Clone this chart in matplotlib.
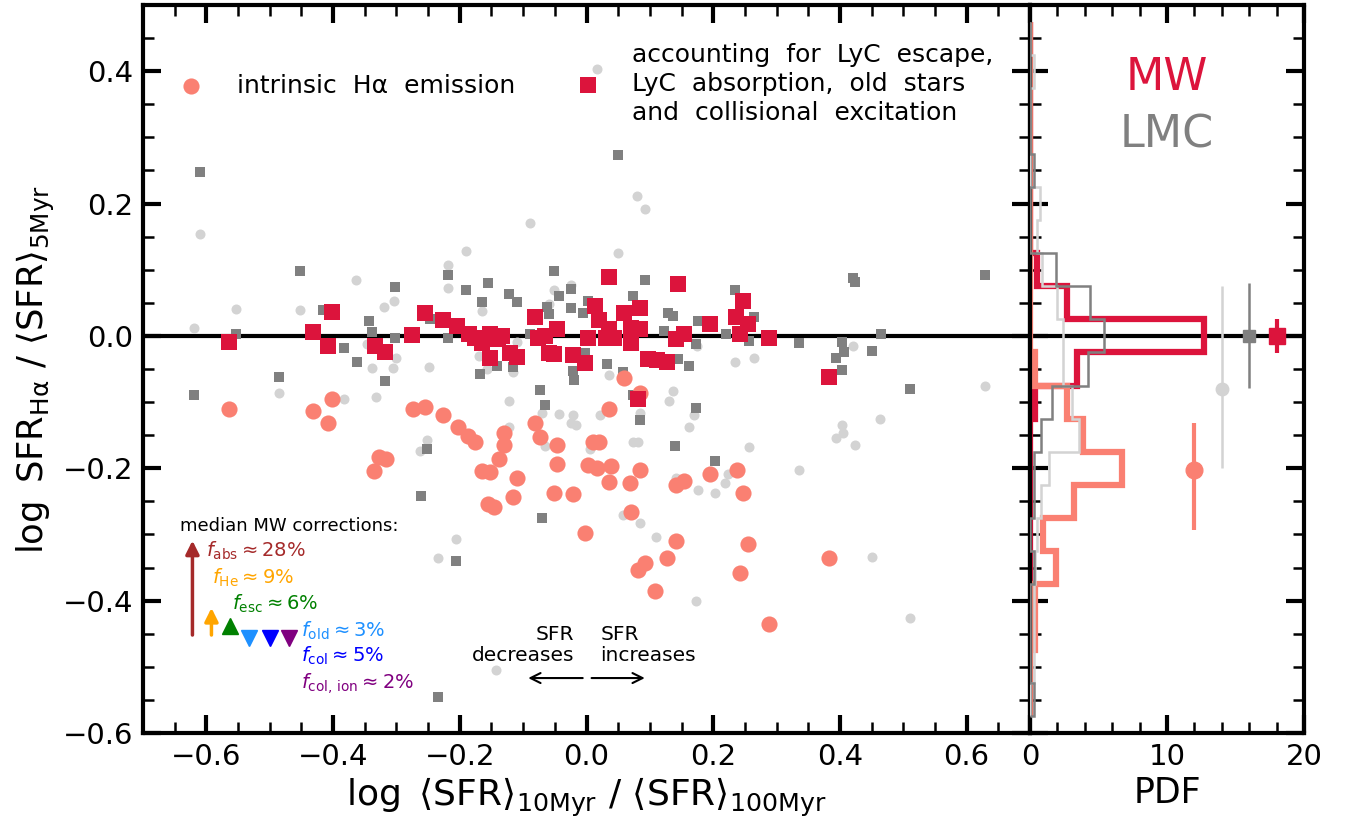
import numpy as np
import matplotlib.pyplot as plt
from matplotlib.lines import Line2D

# ---- data ----
# MW, intrinsic Halpha emission
mw_int_x = [-0.565, -0.432, -0.402, -0.408, -0.328, -0.317, -0.336, -0.274, -0.255, -0.226,
            -0.203, -0.187, -0.176, -0.131, -0.131, -0.138, -0.165, -0.152, -0.109, -0.116,
            -0.155, -0.146, -0.081, -0.074, -0.046, -0.046, -0.052, -0.021, -0.002, 0.002,
            0.059, 0.084, 0.036, 0.011, 0.019, 0.016, 0.038, 0.035, 0.068, 0.084,
            0.070, 0.141, 0.154, 0.195, 0.237, 0.247, 0.141, 0.127, 0.093, 0.082,
            0.108, 0.255, 0.242, 0.288, 0.383]
mw_int_y = [-0.111, -0.114, -0.095, -0.131, -0.183, -0.186, -0.204, -0.111, -0.107, -0.120,
            -0.137, -0.152, -0.161, -0.147, -0.165, -0.186, -0.204, -0.206, -0.215, -0.244,
            -0.254, -0.259, -0.132, -0.153, -0.165, -0.193, -0.238, -0.239, -0.298, -0.195,
            -0.063, -0.086, -0.110, -0.161, -0.161, -0.200, -0.197, -0.221, -0.223, -0.203,
            -0.266, -0.226, -0.219, -0.209, -0.202, -0.238, -0.310, -0.336, -0.343, -0.353,
            -0.386, -0.314, -0.358, -0.436, -0.335]

# MW, corrected
mw_cor_x = [-0.565, -0.432, -0.408, -0.402, -0.334, -0.318, -0.275, -0.255, -0.226, -0.204,
            -0.185, -0.176, -0.152, -0.133, -0.152, -0.120, -0.109, -0.081, -0.076, -0.060,
            -0.065, -0.046, -0.052, -0.021, -0.002, 0.003, 0.014, 0.019, 0.030, 0.035,
            0.036, 0.043, 0.059, 0.070, 0.070, 0.084, 0.085, 0.097, 0.112, 0.127,
            0.082, 0.141, 0.144, 0.154, 0.195, 0.236, 0.242, 0.247, 0.255, 0.288,
            0.383, -0.140, -0.165]
mw_cor_y = [-0.009, 0.006, -0.015, 0.036, -0.015, -0.024, 0.002, 0.035, 0.024, 0.015,
            0.003, -0.003, 0.003, 0.000, -0.033, -0.026, -0.032, 0.029, -0.003, -0.026,
            0.000, 0.011, -0.027, -0.029, -0.041, -0.003, 0.045, 0.024, -0.003, 0.011,
            0.089, -0.003, 0.035, 0.012, -0.011, 0.042, 0.011, -0.035, -0.036, -0.039,
            -0.096, -0.005, 0.078, 0.003, 0.018, 0.029, 0.003, 0.053, 0.018, -0.003,
            -0.062, -0.005, -0.010]

# LMC, intrinsic
lmc_int_x = [-0.089, -0.610, -0.190, -0.218, -0.218, -0.364, -0.304, -0.320, -0.453, -0.554,
             -0.619, -0.165, -0.052, -0.025, -0.060, 0.017, 0.079, 0.092, 0.049, 0.421,
             0.174, -0.339, -0.306, -0.301, -0.249, -0.332, -0.382, -0.169, -0.157, -0.116,
             -0.123, -0.070, -0.123, -0.109, -0.347, -0.486, -0.044, -0.021, -0.025, -0.017,
             -0.065, -0.252, -0.263, -0.206, -0.234, -0.143, 0.234, 0.264, 0.629, 0.464,
             0.404, 0.405, 0.393, 0.423, 0.336, 0.256, 0.136, 0.130, 0.169, 0.162,
             0.021, 0.035, 0.073, 0.082, 0.005, 0.141, 0.223, 0.218, 0.176, 0.203,
             0.057, 0.084, 0.109, 0.173, 0.450, 0.511, 0.085, -0.157]
lmc_int_y = [0.171, 0.154, 0.129, 0.107, 0.072, 0.084, 0.053, 0.044, 0.039, 0.041,
             0.012, 0.038, 0.069, 0.077, 0.048, 0.403, 0.212, 0.192, 0.125, -0.015,
             -0.015, -0.048, -0.048, -0.033, -0.047, -0.092, -0.096, -0.030, -0.050, -0.055,
             -0.099, -0.116, -0.138, -0.009, -0.012, -0.087, -0.118, -0.120, -0.131, -0.135,
             -0.167, -0.158, -0.174, -0.307, -0.335, -0.505, -0.039, -0.033, -0.076, -0.125,
             -0.134, -0.147, -0.154, -0.165, -0.202, -0.168, -0.083, -0.099, -0.120, -0.138,
             -0.120, -0.059, -0.161, -0.161, -0.171, -0.215, -0.208, -0.223, -0.233, -0.238,
             -0.271, -0.283, -0.304, -0.400, -0.334, -0.426, -0.117, -0.033]

# LMC, corrected
lmc_cor_x = [-0.610, -0.453, -0.302, -0.218, -0.190, -0.155, -0.165, -0.122, -0.109, -0.052,
             -0.044, -0.025, -0.025, -0.063, -0.060, -0.005, 0.002, -0.344, -0.416, -0.554,
             -0.339, -0.302, -0.218, -0.247, -0.089, -0.382, 0.049, 0.092, 0.074, 0.128,
             0.136, 0.176, 0.234, 0.264, 0.421, 0.423, 0.629, 0.465, 0.336, 0.404,
             0.407, 0.393, 0.404, 0.450, 0.511, 0.122, 0.173, 0.220, 0.256, 0.033,
             -0.021, -0.019, -0.002, 0.057, 0.162, 0.144, 0.085, 0.073, 0.173, 0.139,
             0.203, -0.619, -0.486, -0.363, -0.318, -0.252, -0.261, -0.206, -0.234, -0.074,
             -0.066, -0.070, -0.168, -0.116, -0.151, -0.141]
lmc_cor_y = [0.247, 0.098, 0.074, 0.092, 0.069, 0.080, 0.051, 0.063, 0.051, 0.098,
             0.060, 0.071, 0.042, 0.044, 0.033, 0.035, 0.053, 0.023, 0.039, 0.003,
             0.006, -0.003, -0.003, 0.026, 0.003, -0.018, 0.274, 0.084, 0.060, 0.035,
             0.030, 0.023, 0.069, 0.029, 0.087, 0.081, 0.092, 0.003, -0.011, -0.009,
             -0.024, -0.033, -0.051, -0.023, -0.080, 0.008, -0.012, 0.003, -0.008, -0.042,
             -0.053, -0.066, -0.026, -0.054, -0.045, -0.035, -0.127, -0.090, -0.109, -0.167,
             -0.189, -0.090, -0.062, -0.039, -0.068, -0.171, -0.242, -0.340, -0.546, -0.081,
             -0.104, -0.275, -0.057, -0.047, -0.003, -0.045]

# PDFs (bin centres from -0.55 to 0.45, width 0.05)
bin_edges = np.arange(-0.575, 0.476, 0.05)
pdf_mw_int = [0, 0, 0.4, 0.4, 1.9, 0.95, 3.2, 6.7, 3.9, 2.7, 0.4, 0,
              0, 0, 0, 0, 0, 0, 0, 0, 0]
pdf_mw_cor = [0, 0, 0, 0, 0, 0, 0, 0, 0, 0.4, 3.4, 12.7,
              2.7, 0.5, 0, 0, 0, 0, 0, 0, 0]
pdf_lmc_int = [0, 0.27, 0.27, 0.3, 0.4, 0.5, 0.8, 1.4, 3.6, 3.1, 2.4, 2.4,
               2.0, 0.9, 0.5, 0.7, 0, 0, 0, 0.27, 0]
pdf_lmc_cor = [0.3, 0, 0, 0, 0.3, 0, 0.3, 0.3, 0.8, 1.6, 4.2, 5.4,
               4.4, 1.9, 0, 0, 0.3, 0, 0, 0, 0]

# medians with 16-84 percentile ranges
med_pos = [12, 14, 16, 18]
med_y = [-0.203, -0.080, 0.0, 0.0]
med_lo = [0.090, 0.120, 0.078, 0.026]
med_hi = [0.071, 0.155, 0.080, 0.026]

# median MW corrections (percent)
corr_labels = [r'$f_{\rm abs}\approx28\%$', r'$f_{\rm He}\approx9\%$', r'$f_{\rm esc}\approx6\%$',
               r'$f_{\rm old}\approx3\%$', r'$f_{\rm col}\approx5\%$', r'$f_{\rm col,\,ion}\approx2\%$']
corr_colors = ['brown', 'orange', 'green', 'dodgerblue', 'blue', 'purple']

c_salmon = 'salmon'
c_crimson = 'crimson'
c_gray = 'gray'
c_lgray = 'lightgray'

fig = plt.figure(figsize=(13.48, 8.22), dpi=100)
ax = fig.add_axes([0.1061, 0.1083, 0.6580, 0.8856])
axh = fig.add_axes([0.7641, 0.1083, 0.2033, 0.8856])

ax.axhline(0, color='k', lw=3, zorder=1)
ax.scatter(lmc_int_x, lmc_int_y, s=52, marker='o', color=c_lgray, lw=0, zorder=2)
ax.scatter(lmc_cor_x, lmc_cor_y, s=44, marker='s', color=c_gray, lw=0, zorder=2)
h1 = ax.scatter(mw_int_x, mw_int_y, s=135, marker='o', color=c_salmon, lw=0, zorder=3)
h2 = ax.scatter(mw_cor_x, mw_cor_y, s=120, marker='s', color=c_crimson, lw=0, zorder=4)

ax.set_xlim(-0.7, 0.7)
ax.set_ylim(-0.6, 0.5)
ax.set_xticks(np.arange(-0.6, 0.61, 0.2))
ax.set_yticks(np.arange(-0.6, 0.41, 0.2))
ax.set_xticks(np.arange(-0.7, 0.71, 0.05), minor=True)
ax.set_yticks(np.arange(-0.6, 0.51, 0.05), minor=True)

# legends
blank = Line2D([], [], linestyle='none')
leg1 = ax.legend([h1], ['intrinsic  H\u03b1  emission'], loc='center left',
                 bbox_to_anchor=(0.040, 0.889), frameon=False, borderpad=0, borderaxespad=0,
                 handlelength=1.0, handletextpad=1.35, fontsize=18, scatterpoints=1)
ax.add_artist(leg1)
ax.legend([blank, h2, blank],
          ['accounting  for  LyC  escape,', 'LyC  absorption,  old  stars',
           'and  collisional  excitation'],
          loc='center left', bbox_to_anchor=(0.4876, 0.891), frameon=False, borderpad=0,
          borderaxespad=0, handlelength=1.0, handletextpad=1.25, fontsize=18,
          labelspacing=0.2, scatterpoints=1)

# corrections annotation
ax.text(-0.641, -0.287, 'median MW corrections:', fontsize=13, va='center')
lab_x = [-0.600, -0.591, -0.560, -0.450, -0.450, -0.450]
lab_y = [-0.325, -0.365, -0.405, -0.445, -0.484, -0.525]
for t, c, lx, ly in zip(corr_labels, corr_colors, lab_x, lab_y):
    ax.text(lx, ly, t, color=c, fontsize=14, va='center')
arr_x = [-0.622, -0.592, -0.562, -0.532, -0.500, -0.470]
base = -0.452
ax.annotate('', xy=(arr_x[0], base + np.log10(1 / (1 - 0.28))), xytext=(arr_x[0], base),
            arrowprops=dict(arrowstyle='-|>', color=corr_colors[0], lw=2.5, mutation_scale=20,
                            shrinkA=0, shrinkB=0))
ax.annotate('', xy=(arr_x[1], base + np.log10(1 / (1 - 0.09))), xytext=(arr_x[1], base),
            arrowprops=dict(arrowstyle='-|>', color=corr_colors[1], lw=2.5, mutation_scale=20,
                            shrinkA=0, shrinkB=0))
ax.plot(arr_x[2], -0.439, marker='^', ms=11, color=corr_colors[2], ls='none')
for i in range(3, 6):
    ax.plot(arr_x[i], -0.457, marker='v', ms=11, color=corr_colors[i], ls='none')

# SFR direction
ax.text(-0.019, -0.467, 'SFR\ndecreases', fontsize=14.5, ha='right', va='center',
        multialignment='right', linespacing=1.1)
ax.text(0.022, -0.467, 'SFR\nincreases', fontsize=14.5, ha='left', va='center',
        multialignment='left', linespacing=1.1)
ax.annotate('', xy=(-0.092, -0.517), xytext=(-0.006, -0.517),
            arrowprops=dict(arrowstyle='->', color='k', lw=1.5, mutation_scale=18, shrinkA=0, shrinkB=0))
ax.annotate('', xy=(0.092, -0.517), xytext=(0.008, -0.517),
            arrowprops=dict(arrowstyle='->', color='k', lw=1.5, mutation_scale=18, shrinkA=0, shrinkB=0))

ax.set_xlabel(r'$\log\ \langle\mathrm{SFR}\rangle_{\mathrm{10Myr}}\ /\ \langle\mathrm{SFR}\rangle_{\mathrm{100Myr}}$',
              fontsize=26)
ax.set_ylabel(r'$\log\ \mathrm{SFR}_{\mathrm{H\alpha}}\ /\ \langle\mathrm{SFR}\rangle_{\mathrm{5Myr}}$',
              fontsize=25.5)

# histograms
axh.axhline(0, color='k', lw=3, zorder=1)
axh.stairs(pdf_mw_cor, bin_edges, orientation='horizontal', color=c_crimson, lw=4.5, zorder=2)
axh.stairs(pdf_mw_int, bin_edges, orientation='horizontal', color=c_salmon, lw=4.5, zorder=2)
axh.stairs(pdf_lmc_int, bin_edges, orientation='horizontal', color=c_lgray, lw=1.8, zorder=3)
axh.stairs(pdf_lmc_cor, bin_edges, orientation='horizontal', color=c_gray, lw=1.8, zorder=3)

med_cols = [c_salmon, c_lgray, c_gray, c_crimson]
med_mk = ['o', 'o', 's', 's']
med_ms = [12, 9, 8.5, 12]
med_lw = [3, 1.8, 1.8, 3]
for i in range(4):
    axh.errorbar(med_pos[i], med_y[i], yerr=[[med_lo[i]], [med_hi[i]]], fmt=med_mk[i],
                 color=med_cols[i], ms=med_ms[i], elinewidth=med_lw[i], capsize=0, zorder=4)

axh.text(10, 0.391, 'MW', color=c_crimson, fontsize=32, ha='center', va='center')
axh.text(10, 0.304, 'LMC', color=c_gray, fontsize=32, ha='center', va='center')

axh.set_xlim(0, 20)
axh.set_ylim(-0.6, 0.5)
axh.set_xticks([0, 10, 20])
axh.set_xticks(np.arange(0, 20.1, 2), minor=True)
axh.set_yticks(np.arange(-0.6, 0.41, 0.2))
axh.set_yticks(np.arange(-0.6, 0.51, 0.05), minor=True)
axh.tick_params(labelleft=False)
axh.set_xlabel('PDF', fontsize=25)

for a in (ax, axh):
    a.tick_params(which='both', direction='in', top=True, right=True, labelsize=21)
    a.tick_params(which='major', length=13, width=3, pad=7)
    a.tick_params(which='minor', length=8, width=1.8)
    for sp in a.spines.values():
        sp.set_linewidth(3)

plt.savefig('out.png', dpi=100)
